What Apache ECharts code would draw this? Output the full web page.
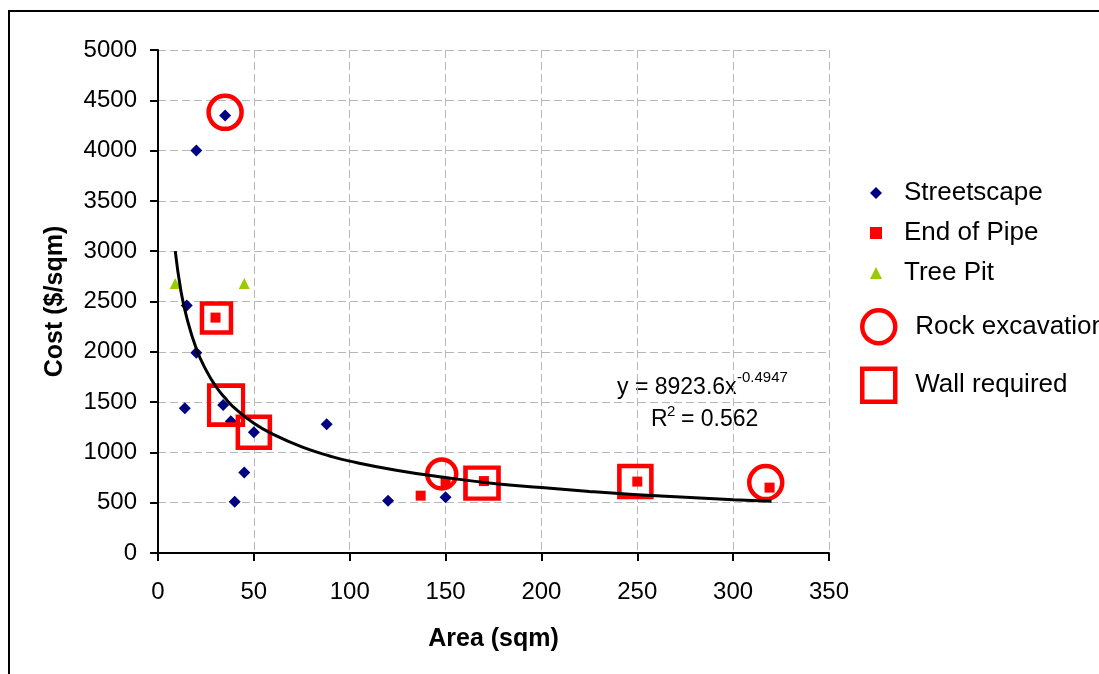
<!DOCTYPE html>
<html>
<head>
<meta charset="utf-8">
<script src="https://cdn.jsdelivr.net/npm/echarts@6/dist/echarts.min.js"></script>
<style>
  html, body { margin: 0; padding: 0; background: #fff; }
  #chart { width: 1099px; height: 674px; }
</style>
</head>
<body>
<div id="chart"></div>
<script>
// cost vs area scatter, power trendline, hand-marked outliers
const streetscape = [[35, 4350], [20, 4000], [15, 2460], [20, 1990], [14, 1440], [34, 1470], [38, 1310],
  [50, 1200], [88, 1280], [45, 800], [40, 510], [120, 520], [150, 555]];
const endOfPipe = [[30, 2340], [137, 570], [150, 700], [170, 715], [250, 710], [319, 650]];
const treePit = [[9, 2680], [45, 2680]];
const rockExcavation = [[35, 4380], [148, 785], [317, 700]];
const wallRequired = [[30.5, 2335], [35.5, 1470], [50, 1200], [169, 695], [249, 710]];

// trendline
const trendX = [9, 12, 15, 20, 25, 30, 35, 40, 50, 60, 75, 90, 100, 125, 150, 175, 200, 225, 250, 275, 300, 320];
const trendY = [3000, 2600, 2340, 2030, 1820, 1660, 1540, 1440, 1290, 1180, 1055, 962, 913, 820, 750, 692, 650, 612, 580, 555, 530, 515];

const xTicks = { min: 0, max: 350, interval: 50 };
const yTicks = { min: 0, max: 5000, interval: 500 };

// marker sizes for the hand-drawn rings/boxes
const rockSizes = [33, 29, 33];
const wallSizes = [[29, 29], [34, 39], [32, 31], [33, 31], [32, 31]];

const FONT = "'Liberation Sans', Arial, sans-serif";
const RED = "#ff0000";

(function () {
  const chart = echarts.init(document.getElementById("chart"), null, { renderer: "canvas" });

  const gridLine = { show: true, lineStyle: { color: "#b8b8b8", width: 1, type: [8, 4] } };
  const axisLine = { show: true, onZero: false, lineStyle: { color: "#000", width: 2 } };
  const plain = (v) => String(v);

  const option = {
    animation: false,
    backgroundColor: "#fff",
    grid: { left: 158, top: 50, width: 671, height: 503, containLabel: false },
    xAxis: {
      type: "value",
      min: xTicks.min, max: xTicks.max, interval: xTicks.interval,
      name: "Area (sqm)",
      nameLocation: "middle",
      nameGap: 74,
      nameTextStyle: { fontFamily: FONT, fontSize: 25, fontWeight: "bold", color: "#000" },
      axisLine: axisLine,
      axisTick: { show: true, length: 8, lineStyle: { color: "#000", width: 2 } },
      axisLabel: { fontFamily: FONT, fontSize: 24, color: "#000", margin: 27, formatter: plain },
      splitLine: gridLine
    },
    yAxis: {
      type: "value",
      min: yTicks.min, max: yTicks.max, interval: yTicks.interval,
      name: "Cost ($/sqm)",
      nameLocation: "middle",
      nameGap: 90,
      nameTextStyle: { fontFamily: FONT, fontSize: 25, fontWeight: "bold", color: "#000" },
      axisLine: axisLine,
      axisTick: { show: true, length: 8, lineStyle: { color: "#000", width: 2 } },
      axisLabel: { fontFamily: FONT, fontSize: 24, color: "#000", margin: 21, formatter: plain },
      splitLine: gridLine
    },
    legend: [
      {
        orient: "vertical",
        left: 870, top: 180,
        padding: 0,
        itemWidth: 12, itemHeight: 12,
        itemGap: 14,
        selectedMode: false,
        textStyle: { fontFamily: FONT, fontSize: 26, color: "#000", padding: [0, 0, 0, 17] },
        data: ["Streetscape", "End of Pipe", "Tree Pit"]
      },
      {
        orient: "vertical",
        left: 860, top: 308,
        padding: 0,
        itemWidth: 33, itemHeight: 33,
        itemGap: 21,
        selectedMode: false,
        itemStyle: { borderWidth: 4.5, borderColor: RED, color: "rgba(0,0,0,0)" },
        textStyle: { fontFamily: FONT, fontSize: 26, color: "#000", padding: [0, 0, 0, 15] },
        data: ["Rock excavation", "Wall required"]
      }
    ],
    series: [
      {
        name: "Streetscape", type: "scatter", data: streetscape,
        symbol: "diamond", symbolSize: 12, silent: true, z: 3,
        itemStyle: { color: "#000080", opacity: 1 }
      },
      {
        name: "End of Pipe", type: "scatter", data: endOfPipe,
        symbol: "rect", symbolSize: 10, silent: true, z: 3,
        itemStyle: { color: RED, opacity: 1 }
      },
      {
        name: "Tree Pit", type: "scatter", data: treePit,
        symbol: "triangle", symbolSize: 11, silent: true, z: 3,
        itemStyle: { color: "#99cc00", opacity: 1 }
      },
      {
        name: "Rock excavation", type: "scatter", data: rockExcavation,
        symbol: "circle", silent: true, z: 4,
        symbolSize: (v, p) => rockSizes[p.dataIndex],
        itemStyle: { color: "rgba(0,0,0,0)", borderColor: RED, borderWidth: 4.5, opacity: 1 }
      },
      {
        name: "Wall required", type: "scatter", data: wallRequired,
        symbol: "rect", silent: true, z: 4,
        symbolSize: (v, p) => wallSizes[p.dataIndex],
        itemStyle: { color: "rgba(0,0,0,0)", borderColor: RED, borderWidth: 4.5, opacity: 1 }
      },
      {
        name: "trend", type: "line",
        data: trendX.map((x, i) => [x, trendY[i]]),
        showSymbol: false, smooth: true, silent: true, z: 5,
        lineStyle: { color: "#000", width: 3 }
      }
    ],
    graphic: [
      // outer chart frame (runs off the right and bottom edges)
      {
        type: "rect", silent: true, z: 0,
        shape: { x: 9, y: 11, width: 1200, height: 800 },
        style: { fill: "none", stroke: "#000", lineWidth: 2 }
      },
      { type: "text", silent: true, style: { x: 617, y: 388, text: "y = 8923.6x", fontFamily: FONT, fontSize: 23, fill: "#000", verticalAlign: "middle" } },
      { type: "text", silent: true, style: { x: 737, y: 378, text: "-0.4947", fontFamily: FONT, fontSize: 15, fill: "#000", verticalAlign: "middle" } },
      { type: "text", silent: true, style: { x: 651, y: 420, text: "R", fontFamily: FONT, fontSize: 23, fill: "#000", verticalAlign: "middle" } },
      { type: "text", silent: true, style: { x: 667, y: 412, text: "2", fontFamily: FONT, fontSize: 15, fill: "#000", verticalAlign: "middle" } },
      { type: "text", silent: true, style: { x: 681, y: 420, text: "= 0.562", fontFamily: FONT, fontSize: 23, fill: "#000", verticalAlign: "middle" } }
    ]
  };

  chart.setOption(option);
})();
</script>
</body>
</html>
